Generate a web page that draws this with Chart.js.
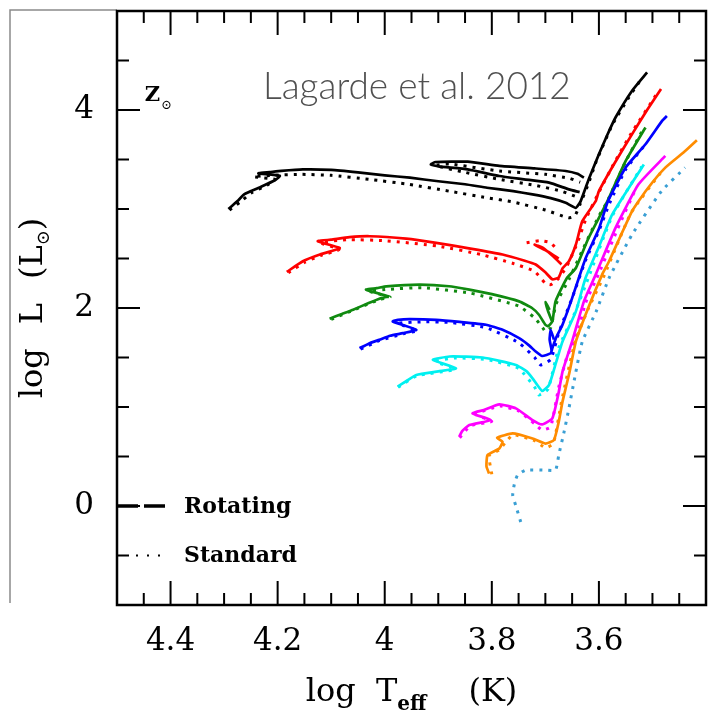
<!DOCTYPE html>
<html>
<head>
<meta charset="utf-8">
<title>HR diagram - Lagarde et al. 2012</title>
<script src="https://cdn.jsdelivr.net/npm/chart.js@4.4.1/dist/chart.umd.min.js"></script>
<style>
  html, body { margin: 0; padding: 0; background: #ffffff; }
  #wrap { width: 708px; height: 710px; }
</style>
</head>
<body>
<div id="wrap"><canvas id="hrChart" width="708" height="710"></canvas></div>
<script>
// tick labels
var xTickLabels = [4.4, 4.2, 4, 3.8, 3.6];
var yTickLabels = [0, 2, 4];

// tracks: [log Teff, log L]  (rot = rotating, std = standard)
var blackRot = [[4.292,3.00],[4.275,3.08],[4.262,3.15],[4.235,3.215],[4.205,3.29],[4.196,3.335],[4.236,3.36],[4.215,3.372],[4.193,3.385],[4.153,3.40],[4.10,3.395],[4.05,3.37],[4.00,3.34],[3.953,3.316],[3.90,3.28],[3.85,3.25],[3.809,3.215],[3.76,3.18],[3.724,3.148],[3.69,3.11],[3.662,3.063],[3.643,3.012],[3.634,3.08],[3.619,3.30],[3.600,3.553],[3.585,3.74],[3.569,3.924],[3.538,4.195],[3.510,4.38]];
var blackRotLoop = [[3.636,3.17],[3.656,3.198],[3.693,3.266],[3.74,3.30],[3.786,3.333],[3.845,3.40],[3.90,3.43],[3.914,3.45],[3.905,3.475],[3.845,3.478],[3.786,3.435],[3.72,3.41],[3.662,3.384],[3.64,3.355],[3.628,3.316]];
var blackStd = [[4.29,2.99],[4.27,3.07],[4.25,3.16],[4.22,3.24],[4.205,3.30],[4.245,3.325],[4.21,3.34],[4.156,3.35],[4.10,3.34],[4.03,3.30],[3.954,3.249],[3.88,3.18],[3.809,3.114],[3.76,3.07],[3.70,2.99],[3.657,2.911],[3.645,2.93],[3.635,3.05],[3.62,3.25],[3.605,3.48],[3.575,3.85],[3.545,4.12],[3.52,4.32]];
var blackStdLoop = [[3.645,3.13],[3.67,3.18],[3.72,3.24],[3.786,3.30],[3.85,3.37],[3.905,3.44],[3.88,3.455],[3.786,3.384],[3.70,3.35],[3.655,3.31],[3.635,3.27]];

var redRot = [[4.183,2.364],[4.153,2.472],[4.121,2.54],[4.09,2.59],[4.084,2.607],[4.125,2.675],[4.10,2.69],[4.066,2.715],[4.028,2.725],[3.96,2.70],[3.904,2.658],[3.84,2.60],[3.78,2.54],[3.74,2.48],[3.718,2.439],[3.70,2.36],[3.687,2.29],[3.675,2.31],[3.668,2.40],[3.656,2.472],[3.643,2.641],[3.631,2.877],[3.606,3.08],[3.600,3.181],[3.57,3.47],[3.538,3.756],[3.51,4.0],[3.484,4.212]];
var redRotClump = [[3.67,2.44],[3.685,2.52],[3.705,2.61],[3.72,2.64],[3.695,2.57],[3.675,2.50]];
var redStd = [[4.18,2.355],[4.15,2.46],[4.12,2.53],[4.085,2.59],[4.12,2.66],[4.07,2.69],[4.0,2.68],[3.90,2.625],[3.82,2.54],[3.76,2.45],[3.72,2.37],[3.70,2.25],[3.69,2.236],[3.675,2.30],[3.66,2.42],[3.64,2.66],[3.625,2.89],[3.60,3.17],[3.57,3.48],[3.54,3.76],[3.49,4.18]];
var redStdClump = [[3.735,2.66],[3.71,2.68],[3.69,2.66],[3.68,2.60]];

var greenRot = [[4.103,1.892],[4.08,1.94],[4.059,1.983],[4.03,2.05],[4.01,2.094],[3.994,2.117],[4.035,2.185],[4.015,2.20],[3.997,2.219],[3.935,2.236],[3.88,2.22],[3.842,2.185],[3.80,2.14],[3.749,2.067],[3.725,2.00],[3.712,1.932],[3.70,1.831],[3.695,1.815],[3.687,1.864],[3.681,2.067],[3.66,2.30],[3.643,2.404],[3.62,2.70],[3.600,2.911],[3.584,3.08],[3.55,3.485],[3.513,3.823]];
var greenRotClump = [[3.688,1.87],[3.695,1.97],[3.700,2.06],[3.692,1.98]];
var greenStd = [[4.10,1.885],[4.06,1.975],[4.01,2.085],[3.99,2.11],[4.03,2.17],[3.99,2.19],[3.93,2.205],[3.84,2.15],[3.75,2.02],[3.72,1.90],[3.705,1.80],[3.70,1.763],[3.69,1.80],[3.68,2.04],[3.655,2.30],[3.625,2.65],[3.60,2.93],[3.585,3.07],[3.55,3.48],[3.52,3.78]];

var blueRot = [[4.047,1.594],[4.03,1.64],[4.01,1.679],[3.99,1.72],[3.966,1.746],[3.941,1.78],[3.985,1.864],[3.975,1.88],[3.954,1.888],[3.904,1.881],[3.86,1.86],[3.811,1.831],[3.78,1.78],[3.749,1.695],[3.73,1.62],[3.718,1.56],[3.706,1.515],[3.69,1.543],[3.687,1.594],[3.68,1.70],[3.668,1.831],[3.65,2.10],[3.625,2.50],[3.60,2.80],[3.583,3.08],[3.55,3.42],[3.513,3.654],[3.482,3.89],[3.473,3.94]];
var blueRotClump = [[3.688,1.57],[3.692,1.68],[3.690,1.78],[3.684,1.68]];
var blueStd = [[4.045,1.585],[4.01,1.67],[3.965,1.74],[3.94,1.77],[3.975,1.845],[3.93,1.86],[3.88,1.855],[3.81,1.80],[3.75,1.65],[3.72,1.50],[3.709,1.425],[3.69,1.48],[3.675,1.75],[3.65,2.10],[3.625,2.48],[3.60,2.78],[3.58,3.06],[3.55,3.40],[3.515,3.64]];

var cyanRot = [[3.976,1.206],[3.96,1.26],[3.941,1.324],[3.90,1.36],[3.867,1.391],[3.91,1.476],[3.879,1.51],[3.817,1.50],[3.755,1.425],[3.735,1.36],[3.724,1.29],[3.706,1.162],[3.693,1.223],[3.68,1.45],[3.668,1.662],[3.643,1.966],[3.625,2.303],[3.60,2.62],[3.575,2.945],[3.516,3.45]];
var cyanStd = [[3.975,1.20],[3.94,1.315],[3.87,1.38],[3.905,1.46],[3.87,1.495],[3.81,1.48],[3.75,1.39],[3.72,1.20],[3.712,1.122],[3.695,1.18],[3.675,1.60],[3.645,1.95],[3.62,2.30],[3.575,2.93],[3.52,3.43]];

var magentaRot = [[3.861,0.699],[3.855,0.76],[3.842,0.818],[3.802,0.868],[3.836,0.935],[3.815,0.97],[3.786,1.027],[3.755,0.986],[3.724,0.868],[3.706,0.824],[3.687,0.885],[3.675,1.15],[3.668,1.358],[3.65,1.662],[3.628,2.067],[3.606,2.337],[3.569,2.81],[3.526,3.249],[3.476,3.536]];
var magentaStd = [[3.86,0.69],[3.84,0.81],[3.80,0.855],[3.83,0.925],[3.785,1.01],[3.75,0.96],[3.72,0.83],[3.706,0.767],[3.69,0.80],[3.675,1.20],[3.66,1.50],[3.64,1.75],[3.625,2.05],[3.60,2.35],[3.565,2.80],[3.53,3.22]];

var orangeRot = [[3.805,0.327],[3.81,0.40],[3.808,0.514],[3.786,0.581],[3.78,0.648],[3.79,0.69],[3.761,0.733],[3.724,0.682],[3.700,0.631],[3.684,0.665],[3.675,0.85],[3.668,1.054],[3.655,1.35],[3.643,1.662],[3.62,2.0],[3.594,2.337],[3.581,2.472],[3.538,2.979],[3.51,3.2],[3.476,3.418],[3.44,3.58],[3.417,3.695]];
var orangeStd = [[3.80,0.32],[3.805,0.51],[3.785,0.57],[3.775,0.64],[3.76,0.72],[3.72,0.66],[3.70,0.588],[3.685,0.63],[3.67,1.05],[3.645,1.65],[3.62,1.99],[3.59,2.33],[3.54,2.96],[3.48,3.40]];

var lightBlueStd = [[3.746,-0.162],[3.755,0.0],[3.761,0.108],[3.758,0.22],[3.752,0.311],[3.737,0.362],[3.70,0.362],[3.681,0.362],[3.675,0.514],[3.665,0.75],[3.656,0.986],[3.645,1.3],[3.631,1.662],[3.605,1.966],[3.581,2.303],[3.538,2.743],[3.483,3.181],[3.439,3.418]];

var SERIF = '"DejaVu Serif", "Liberation Serif", serif';

function toPts(arr) {
    return arr.map(function(p) { return {x: p[0], y: p[1]}; });
}

function track(arr, color, dotted) {
    return {
        data: toPts(arr),
        borderColor: color,
        backgroundColor: color,
        borderWidth: dotted ? 3 : 2.7,
        borderDash: dotted ? [3, 6] : [],
        borderCapStyle: 'butt',
        showLine: true,
        pointRadius: 0,
        tension: 0.15,
        fill: false
    };
}

var datasets = [
    track(lightBlueStd, '#3a9fd4', true),
    track(orangeStd, '#ff8c00', true),
    track(orangeRot, '#ff8c00', false),
    track(magentaStd, '#ff00ff', true),
    track(magentaRot, '#ff00ff', false),
    track(cyanStd, '#00f0f0', true),
    track(cyanRot, '#00f0f0', false),
    track(blueStd, '#0000ff', true),
    track(blueRot, '#0000ff', false),
    track(blueRotClump, '#0000ff', false),
    track(greenStd, '#108a10', true),
    track(greenRot, '#108a10', false),
    track(greenRotClump, '#108a10', false),
    track(redStd, '#ff0000', true),
    track(redStdClump, '#ff0000', true),
    track(redRot, '#ff0000', false),
    track(redRotClump, '#ff0000', false),
    track(blackStd, '#000000', true),
    track(blackStdLoop, '#000000', true),
    track(blackRot, '#000000', false),
    track(blackRotLoop, '#000000', false)
];

// frame, inward ticks, titles, legend and labels
var framePlugin = {
    id: 'framePlugin',
    afterDraw: function(chart) {
        var ctx = chart.ctx;
        var a = chart.chartArea;
        var xs = chart.scales.x, ys = chart.scales.y;
        ctx.save();

        // thin grey border of the original figure
        ctx.strokeStyle = '#8a8a8a';
        ctx.lineWidth = 1.5;
        ctx.beginPath();
        ctx.moveTo(10, 603);
        ctx.lineTo(10, 10);
        ctx.lineTo(a.left, 10);
        ctx.stroke();

        // plot frame
        ctx.strokeStyle = '#000';
        ctx.lineWidth = 2.5;
        ctx.strokeRect(a.left, a.top, a.right - a.left, a.bottom - a.top);

        // inward ticks
        ctx.lineWidth = 2;
        ctx.beginPath();
        for (var i = 69; i <= 89; i++) {
            var px = xs.getPixelForValue(i * 0.05);
            var len = (i % 4 === 0) ? 24 : 12;
            ctx.moveTo(px, a.bottom); ctx.lineTo(px, a.bottom - len);
            ctx.moveTo(px, a.top); ctx.lineTo(px, a.top + len);
        }
        for (var j = -1; j <= 9; j++) {
            var py = ys.getPixelForValue(j * 0.5);
            var ylen = (j % 4 === 0) ? 23 : 12;
            ctx.moveTo(a.left, py); ctx.lineTo(a.left + ylen, py);
            ctx.moveTo(a.right, py); ctx.lineTo(a.right - ylen, py);
        }
        ctx.stroke();

        // x title: log T_eff (K)
        ctx.fillStyle = '#000';
        ctx.textBaseline = 'alphabetic';
        ctx.textAlign = 'left';
        var big = '32px ' + SERIF, sub = 'bold 20px ' + SERIF;
        ctx.font = big;
        var w1 = ctx.measureText('log  T').width;
        var w3 = ctx.measureText('(K)').width;
        ctx.font = sub;
        var w2 = ctx.measureText('eff').width;
        var gap = 42;
        var total = w1 + w2 + gap + w3;
        var x0 = (a.left + a.right) / 2 - total / 2;
        var base = 701;
        ctx.font = big;
        ctx.fillText('log  T', x0, base);
        ctx.font = sub;
        ctx.fillText('eff', x0 + w1, base + 9);
        ctx.font = big;
        ctx.fillText('(K)', x0 + w1 + w2 + gap, base);

        // y title: log L (L_sun), rotated
        ctx.save();
        ctx.translate(42, (a.top + a.bottom) / 2);
        ctx.rotate(-Math.PI / 2);
        ctx.font = big;
        var pieces = ['log', 'L', '(L'];
        var gaps = [24, 24, 0];
        var widths = pieces.map(function(s) { return ctx.measureText(s).width; });
        ctx.font = '18px ' + SERIF;
        var sunW = ctx.measureText('\u2299').width;
        ctx.font = big;
        var closeW = ctx.measureText(')').width;
        var tot = widths[0] + gaps[0] + widths[1] + gaps[1] + widths[2] + sunW + closeW;
        var cx = -tot / 2;
        for (var k = 0; k < pieces.length; k++) {
            ctx.fillText(pieces[k], cx, 0);
            cx += widths[k] + gaps[k];
        }
        ctx.font = '18px ' + SERIF;
        ctx.fillText('\u2299', cx, 7);
        cx += sunW;
        ctx.font = big;
        ctx.fillText(')', cx, 0);
        ctx.restore();

        // Z_sun label
        var zx = xs.getPixelForValue(4.448), zy = ys.getPixelForValue(4.09);
        ctx.font = 'bold 21px ' + SERIF;
        ctx.fillText('Z', zx, zy);
        var zw = ctx.measureText('Z').width;
        ctx.font = '13px ' + SERIF;
        ctx.fillText('\u2299', zx + zw + 1, zy + 8);

        // reference label
        ctx.fillStyle = '#505050';
        ctx.font = '300 37px Lato, "Open Sans", sans-serif';
        ctx.textAlign = 'center';
        ctx.fillText('Lagarde et al. 2012', xs.getPixelForValue(3.94), ys.getPixelForValue(4.11));

        // legend
        ctx.fillStyle = '#000';
        ctx.textAlign = 'left';
        ctx.textBaseline = 'middle';
        var ly0 = ys.getPixelForValue(0), ly1 = ys.getPixelForValue(-0.5);
        ctx.strokeStyle = '#000';
        ctx.lineWidth = 3.5;
        ctx.setLineDash([21, 6]);
        ctx.beginPath();
        ctx.moveTo(a.left, ly0); ctx.lineTo(a.left + 53, ly0);
        ctx.stroke();
        ctx.lineWidth = 2;
        ctx.setLineDash([2, 9]);
        ctx.beginPath();
        ctx.moveTo(a.left + 19, ly1); ctx.lineTo(a.left + 46, ly1);
        ctx.stroke();
        ctx.setLineDash([]);
        ctx.font = 'bold 22px ' + SERIF;
        ctx.fillText('Rotating', a.left + 67, ly0 + 1);
        ctx.fillText('Standard', a.left + 67, ly1 + 1);

        ctx.restore();
    }
};

var ctx = document.getElementById('hrChart').getContext('2d');
var hrChart = new Chart(ctx, {
    type: 'scatter',
    data: { datasets: datasets },
    options: {
        responsive: false,
        animation: false,
        devicePixelRatio: 1,
        layout: { padding: { top: 11, right: 2, left: 0, bottom: 0 } },
        plugins: {
            legend: { display: false },
            tooltip: { enabled: false }
        },
        scales: {
            x: {
                type: 'linear',
                min: 3.4,
                max: 4.5,
                reverse: true,
                grid: { display: false },
                border: { display: false },
                afterBuildTicks: function(s) {
                    s.ticks = xTickLabels.map(function(v) { return {value: v}; });
                },
                afterFit: function(s) {
                    s.height = 105;
                    s.paddingLeft = 0; s.paddingRight = 0;
                },
                ticks: {
                    autoSkip: false,
                    maxRotation: 0,
                    padding: 10,
                    color: '#000',
                    font: { family: SERIF, size: 31 },
                    callback: function(v) { return String(v); }
                }
            },
            y: {
                type: 'linear',
                min: -1,
                max: 5,
                grid: { display: false },
                border: { display: false },
                afterBuildTicks: function(s) {
                    s.ticks = yTickLabels.map(function(v) { return {value: v}; });
                },
                afterFit: function(s) {
                    s.width = 117;
                    s.paddingTop = 0; s.paddingBottom = 0;
                },
                ticks: {
                    autoSkip: false,
                    padding: 15,
                    color: '#000',
                    font: { family: SERIF, size: 31 },
                    callback: function(v) { return String(v); }
                }
            }
        }
    },
    plugins: [framePlugin]
});
</script>
</body>
</html>
